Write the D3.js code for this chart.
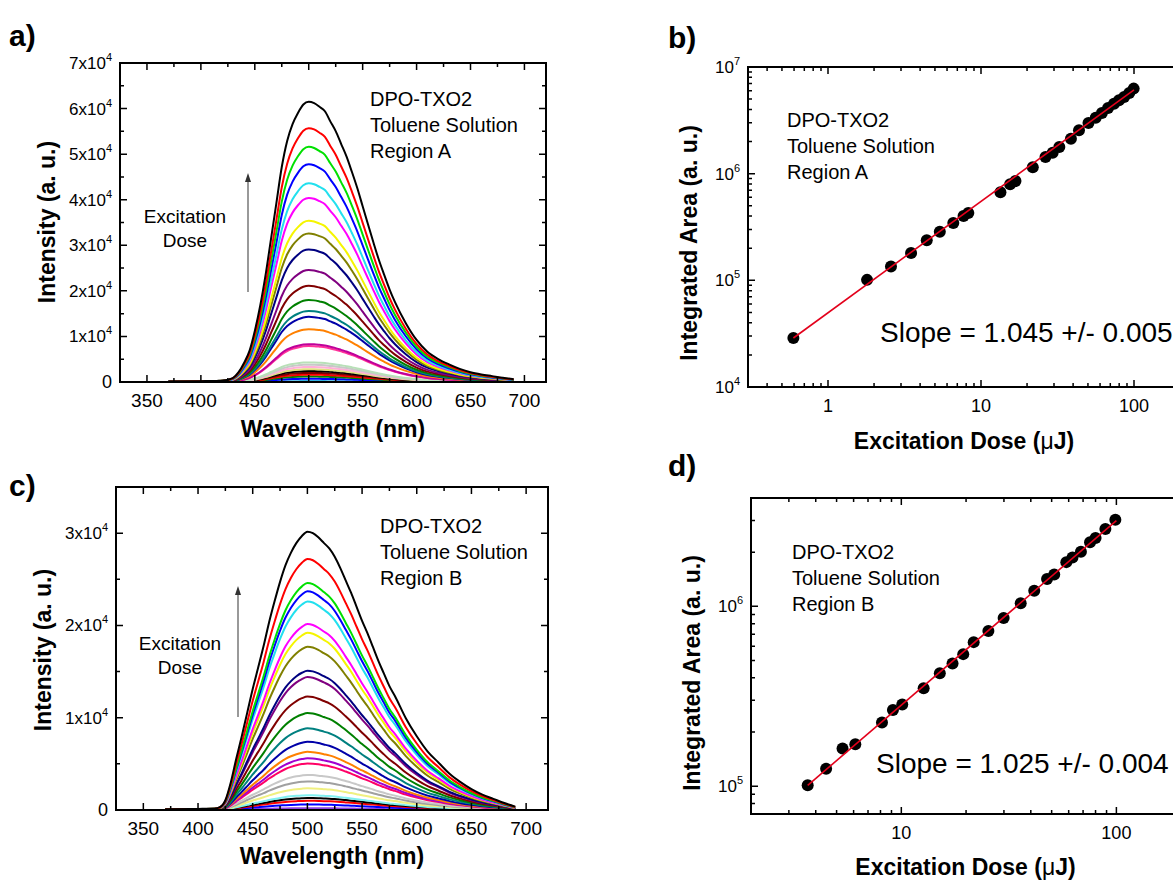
<!DOCTYPE html>
<html><head><meta charset="utf-8">
<script src="https://cdn.jsdelivr.net/npm/d3@7"></script>
<style>
body{margin:0;background:#fff}
svg{display:block}
text{font-family:"Liberation Sans",Arial,sans-serif;fill:#000}
</style>
</head><body>
<svg id="fig" width="1173" height="881"></svg>
<script>
// ---------------- DATA ----------------
const wavelengths = [370,400,415,420,425,430,435,440,445,450,455,460,465,470,475,480,485,490,495,500,505,510,515,520,525,530,535,540,545,550,555,560,565,570,575,580,590,600,610,620,630,640,650,660,670,680,690];
// normalised spectral shapes read from the top (black) curve of each panel
const profileA = [0.002,0.003,0.004,0.005,0.008,0.015,0.035,0.068,0.11,0.182,0.272,0.382,0.51,0.638,0.767,0.86,0.92,0.96,0.99,1.0,0.995,0.982,0.966,0.93,0.895,0.85,0.805,0.75,0.692,0.627,0.562,0.498,0.436,0.382,0.33,0.285,0.21,0.15,0.108,0.082,0.063,0.047,0.035,0.027,0.021,0.015,0.01];
const profileB = [0.003,0.004,0.005,0.01,0.035,0.1,0.185,0.265,0.35,0.435,0.512,0.59,0.675,0.75,0.82,0.88,0.925,0.96,0.985,1.0,0.995,0.98,0.96,0.94,0.91,0.87,0.825,0.78,0.73,0.68,0.635,0.585,0.535,0.49,0.445,0.41,0.33,0.265,0.21,0.17,0.13,0.1,0.075,0.055,0.04,0.025,0.012];
// peak intensities of each spectrum (a.u.)
const peaksA = [61500,55700,51600,47800,43600,40400,35400,32600,29100,24600,21100,18000,15600,14300,11600,8300,7900,4300,3800,3300,2800,2400,2000,1600,1200,700,200];
const peaksC = [30150,27200,24600,23700,22600,20150,19200,17700,15100,14400,12300,10500,8850,7400,6300,5600,5050,3800,3100,2350,1600,1300,1000,600,200];
const colorsA = ["#000000","#ff0000","#00e000","#0000ff","#22e0ee","#ff00ff","#f5f500","#808000","#000080","#800080","#800000","#008000","#008080","#0000a8","#ff8000","#c0009a","#ff3399","#b8e0b8","#c8c8c8","#ffb0d8","#e0e080","#000000","#800000","#ff0000","#008000","#0000ff","#30b0e0"];
const colorsC = ["#000000","#ff0000","#00e000","#0000ff","#22e0ee","#ff00ff","#f5f500","#808000","#000080","#800080","#800000","#008000","#008080","#0000a8","#ff8000","#a000d0","#ff0066","#c8c8c8","#a0a0a0","#f0f080","#80f0f0","#000000","#ff0000","#0000ff","#9040e0"];

// panel b: integrated area vs dose (region A)
const doseB = [0.594,1.80,2.58,3.49,4.42,5.38,6.59,7.69,8.26,13.4,15.5,16.8,21.8,26.4,29.4,32.5,38.7,43.7,50.4,56.2,61.7,67.7,74.0,79.8,86.2,93.1,99.5];
const areaB = [28800,101000,135000,180000,237000,286000,345000,401000,428000,669000,794000,854000,1150000,1430000,1570000,1780000,2130000,2550000,2990000,3350000,3700000,4130000,4530000,4870000,5230000,5710000,6270000];
const fitB = [[0.594,28800],[100,6100000]];
// panel d: integrated area vs dose (region B)
const doseD = [3.67,4.47,5.33,6.11,8.13,9.14,10.1,12.7,15.1,17.3,19.4,21.7,25.4,29.9,35.9,41.5,47.6,51.4,58.5,62.5,68.4,75.4,80.0,88.9,98.9];
const areaD = [101000,125000,162000,171000,226000,265000,284000,350000,424000,480000,542000,632000,728000,862000,1040000,1220000,1420000,1500000,1760000,1870000,2010000,2270000,2400000,2690000,3030000];
const fitD = [[3.67,101000],[100,2990000]];

const xTickValues = [350,400,450,500,550,600,650,700];
const yTickA = [0,10000,20000,30000,40000,50000,60000,70000];
const yTickC = [0,10000,20000,30000];
const logXTicksB = [1,10,100];
const logYTicksB = [1e4,1e5,1e6,1e7];
const logXTicksD = [10,100];
const logYTicksD = [1e5,1e6];

// ---------------- DRAW ----------------
const svg = d3.select("#fig");

function frame(g, L, R, T, B){
  g.append("rect").attr("x",L).attr("y",T).attr("width",R-L).attr("height",B-T)
   .attr("fill","none").attr("stroke","#000").attr("stroke-width",2);
}
function ticks(g, x, y, L, R, T, B, xs, ys, len){
  g.selectAll(null).data(xs).enter().append("path")
    .attr("d", v => `M${x(v)},${B}v${-len}M${x(v)},${T}v${len}`)
    .attr("stroke","#000").attr("stroke-width",1.5);
  g.selectAll(null).data(ys).enter().append("path")
    .attr("d", v => `M${L},${y(v)}h${len}M${R},${y(v)}h${-len}`)
    .attr("stroke","#000").attr("stroke-width",1.5);
}
function sup(t, base, exp, bs, es){
  t.append("tspan").text(base).attr("font-size",bs);
  t.append("tspan").text(exp).attr("font-size",es).attr("dy",-8);
}

function spectraPanel(o){
  const g = svg.append("g");
  const x = d3.scaleLinear().domain([325,720]).range([o.L,o.R]);
  const y = d3.scaleLinear().domain([0,o.ymax]).range([o.B,o.T]);
  const line = d3.line().x(d=>x(d[0])).y(d=>y(d[1])).curve(d3.curveMonotoneX);
  const series = o.peaks.map((p,i)=>({c:o.colors[i], pts: wavelengths.map((w,j)=>[w, o.profile[j]*p])}));
  g.selectAll(null).data(series.slice().reverse()).enter().append("path")
    .attr("d", d=>line(d.pts)).attr("fill","none").attr("stroke",d=>d.c)
    .attr("stroke-width",2).attr("stroke-linejoin","round");
  frame(g,o.L,o.R,o.T,o.B);
  const xMinor = d3.range(375,720,50);
  const yMinor = d3.range(5000,o.ymax,10000);
  ticks(g,x,y,o.L,o.R,o.T,o.B,xTickValues,o.yticks.filter(v=>v>0 && v<o.ymax),7);
  ticks(g,x,y,o.L,o.R,o.T,o.B,xMinor,yMinor,4);
  g.selectAll(null).data(xTickValues).enter().append("text")
    .attr("x",v=>x(v)).attr("y",o.B+25).attr("text-anchor","middle")
    .attr("font-size",19).text(v=>v);
  o.yticks.forEach(v=>{
    const t = g.append("text").attr("x",o.L-8).attr("y",y(v)+6).attr("text-anchor","end");
    if(v===0) t.attr("font-size",18).text("0");
    else sup(t, (v/1e4)+"x10", "4", 17, 11);
  });
  g.append("text").attr("x",(o.L+o.R)/2).attr("y",o.xtitleY).attr("text-anchor","middle")
    .attr("font-size",23).attr("font-weight","bold").text("Wavelength (nm)");
  g.append("text").attr("transform",`translate(${o.ytitleX},${o.ytitleY}) rotate(-90)`)
    .attr("text-anchor","middle").attr("font-size",23).attr("font-weight","bold").text("Intensity (a. u.)");
  o.note.forEach((s,i)=> g.append("text").attr("x",o.noteX).attr("y",o.noteY+i*26).attr("font-size",20).text(s));
  g.append("text").attr("x",o.excX).attr("y",o.excY).attr("text-anchor","middle").attr("font-size",19).text("Excitation");
  g.append("text").attr("x",o.excX).attr("y",o.excY+24).attr("text-anchor","middle").attr("font-size",19).text("Dose");
  g.append("line").attr("x1",o.arrX).attr("x2",o.arrX).attr("y1",o.arrB).attr("y2",o.arrT+6)
    .attr("stroke","#555").attr("stroke-width",1.2);
  g.append("path").attr("d",`M${o.arrX},${o.arrT}l-3,9h6z`).attr("fill","#333");
  g.append("text").attr("x",o.labX).attr("y",o.labY).attr("font-size",30).attr("font-weight","bold").text(o.label);
}

function logPanel(o){
  const g = svg.append("g");
  const x = d3.scaleLog().domain(o.xdom).range([o.L,o.R]);
  const y = d3.scaleLog().domain(o.ydom).range([o.B,o.T]);
  const minors = (dom) => {
    const out=[]; for(let e=Math.floor(Math.log10(dom[0])); e<=Math.ceil(Math.log10(dom[1])); e++)
      for(let k=2;k<=9;k++){ const v=k*Math.pow(10,e); if(v>dom[0]*1.001 && v<dom[1]*0.999) out.push(v);} return out; };
  frame(g,o.L,o.R,o.T,o.B);
  ticks(g,x,y,o.L,o.R,o.T,o.B,o.xt,o.yt.filter(v=>v>o.ydom[0]&&v<o.ydom[1]),7);
  ticks(g,x,y,o.L,o.R,o.T,o.B,minors(o.xdom),minors(o.ydom),4);
  g.selectAll(null).data(o.xt).enter().append("text")
    .attr("x",v=>x(v)).attr("y",o.B+25).attr("text-anchor","middle").attr("font-size",18).text(v=>v);
  o.yt.forEach(v=>{
    const t = g.append("text").attr("x",o.L-8).attr("y",y(v)+6).attr("text-anchor","end");
    sup(t,"10",String(Math.round(Math.log10(v))),17,11);
  });
  g.selectAll(null).data(o.dose).enter().append("circle")
    .attr("cx",d=>x(d)).attr("cy",(d,i)=>y(o.area[i])).attr("r",6).attr("fill","#000");
  g.append("path").attr("d",d3.line().x(d=>x(d[0])).y(d=>y(d[1]))(o.fit))
    .attr("stroke","#e3001b").attr("stroke-width",1.6).attr("fill","none");
  const tt = g.append("text").attr("x",(o.L+1180)/2).attr("y",o.xtitleY).attr("text-anchor","middle")
    .attr("font-size",23).attr("font-weight","bold");
  tt.append("tspan").text("Excitation Dose (");
  tt.append("tspan").attr("font-weight","normal").text("\u03bc");
  tt.append("tspan").text("J)");
  g.append("text").attr("transform",`translate(${o.ytitleX},${o.ytitleY}) rotate(-90)`)
    .attr("text-anchor","middle").attr("font-size",23).attr("font-weight","bold").text("Integrated Area (a. u.)");
  o.note.forEach((s,i)=> g.append("text").attr("x",o.noteX).attr("y",o.noteY+i*26).attr("font-size",20).text(s));
  g.append("text").attr("x",o.slopeX).attr("y",o.slopeY).attr("font-size",28).text(o.slope);
  g.append("text").attr("x",o.labX).attr("y",o.labY).attr("font-size",30).attr("font-weight","bold").text(o.label);
}

spectraPanel({L:120,R:546,T:63,B:382,ymax:70000,yticks:yTickA,peaks:peaksA,profile:profileA,colors:colorsA,
  xtitleY:437,ytitleX:55,ytitleY:222,note:["DPO-TXO2","Toluene Solution","Region A"],noteX:370,noteY:106,
  excX:185,excY:223,arrX:248,arrT:173,arrB:292,label:"a)",labX:9,labY:46});
spectraPanel({L:116,R:548,T:487,B:810,ymax:35000,yticks:yTickC,peaks:peaksC,profile:profileB,colors:colorsC,
  xtitleY:864,ytitleX:51,ytitleY:650,note:["DPO-TXO2","Toluene Solution","Region B"],noteX:380,noteY:533,
  excX:180,excY:650,arrX:238,arrT:586,arrB:717,label:"c)",labX:9,labY:496});
logPanel({L:748,R:1207,T:67,B:387,xdom:[0.3,300],ydom:[1e4,1e7],xt:logXTicksB,yt:logYTicksB,dose:doseB,area:areaB,fit:fitB,
  xtitleY:449,ytitleX:697,ytitleY:243,note:["DPO-TXO2","Toluene Solution","Region A"],noteX:787,noteY:127,
  slope:"Slope = 1.045 +/- 0.005",slopeX:880,slopeY:342,label:"b)",labX:668,labY:48});
logPanel({L:751,R:1219,T:498,B:814,xdom:[2,300],ydom:[7e4,4e6],xt:logXTicksD,yt:logYTicksD,dose:doseD,area:areaD,fit:fitD,
  xtitleY:875,ytitleX:700,ytitleY:673,note:["DPO-TXO2","Toluene Solution","Region B"],noteX:792,noteY:559,
  slope:"Slope = 1.025 +/- 0.004",slopeX:876,slopeY:773,label:"d)",labX:668,labY:476});
</script>
</body></html>
